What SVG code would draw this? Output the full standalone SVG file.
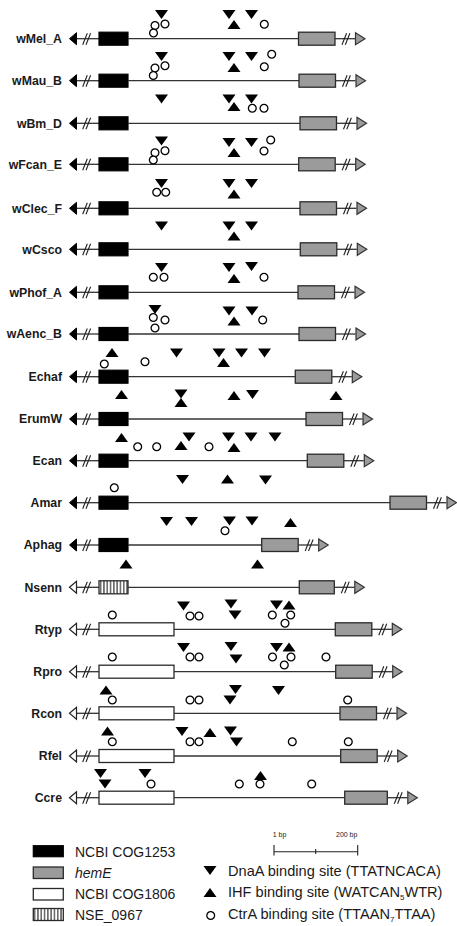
<svg xmlns="http://www.w3.org/2000/svg" xmlns:xlink="http://www.w3.org/1999/xlink" width="457" height="926" viewBox="0 0 457 926">
<style>
.lbl{font-family:"Liberation Sans",Arial,sans-serif;font-weight:bold;font-size:12.3px;fill:#1a1a1a;text-anchor:end}
.ln{stroke:#333;stroke-width:1.3;fill:none}
.sl{stroke:#222;stroke-width:1.1;fill:none}
.blk{fill:#000;stroke:#000;stroke-width:1.2}
.gry{fill:#9b9b9b;stroke:#2a2a2a;stroke-width:1.3}
.wht{fill:#fff;stroke:#2a2a2a;stroke-width:1.3}
.hat{fill:url(#hatch);stroke:#2a2a2a;stroke-width:1.3}
.lg{font-family:"Liberation Sans",Arial,sans-serif;font-size:14px;fill:#1a1a1a}
.lg2{font-family:"Liberation Sans",Arial,sans-serif;font-size:14.6px;fill:#1a1a1a}
.sm{font-family:"Liberation Sans",Arial,sans-serif;font-size:7px;fill:#1a1a1a}
</style>
<defs>
<pattern id="hatch" x="0" y="0" width="3.3" height="20" patternUnits="userSpaceOnUse">
<rect width="3.3" height="20" fill="#fff"/>
<line x1="1.65" y1="0" x2="1.65" y2="20" stroke="#222" stroke-width="1.1"/>
</pattern>
<path id="dn" d="M-6.5,-4.4H6.5L0,4.4Z" fill="#000"/>
<path id="up" d="M-6.5,4.4H6.5L0,-4.4Z" fill="#000"/>
<circle id="ct" r="3.9" fill="#fff" stroke="#000" stroke-width="1.3"/>
<g id="capLb">
<path class="ln" d="M76,0H99"/>
<path class="sl" d="M82.7,6L87.3,-5.5M86,6L90.6,-5.5"/>
<path d="M69.5,0L76.5,-6V6Z" fill="#000" stroke="#000" stroke-width="1"/>
</g>
<g id="capLw">
<path class="ln" d="M76,0H99"/>
<path class="sl" d="M82.7,6L87.3,-5.5M86,6L90.6,-5.5"/>
<path d="M69.5,0L76.5,-6V6Z" fill="#fff" stroke="#222" stroke-width="1.2"/>
</g>
<g id="capR">
<path class="ln" d="M0,0H20"/>
<path class="sl" d="M7,6L11.6,-5.5M10.3,6L14.9,-5.5"/>
<path d="M20.5,-6L30,0L20.5,6Z" fill="#9b9b9b" stroke="#333" stroke-width="1.2"/>
</g>
</defs>
<rect width="457" height="926" fill="#fff"/>

<g id="wMel_A">
<text class="lbl" x="62" y="42.9">wMel_A</text>
<use xlink:href="#capLb" y="38.7"/>
<rect class="blk" x="99" y="32.2" width="29" height="13"/>
<path class="ln" d="M128,38.7H298.5"/>
<rect class="gry" x="298.5" y="32.2" width="36.5" height="13"/>
<use xlink:href="#capR" x="335" y="38.7"/>
<use xlink:href="#dn" x="161.5" y="14.5"/>
<use xlink:href="#ct" x="165" y="24"/><use xlink:href="#ct" x="155" y="25.5"/><use xlink:href="#ct" x="153.5" y="33"/>
<use xlink:href="#dn" x="229" y="14.5"/><use xlink:href="#up" x="234" y="24.5"/><use xlink:href="#dn" x="251.5" y="14.5"/>
<use xlink:href="#ct" x="264.3" y="24.3"/>
</g>

<g id="wMau_B">
<text class="lbl" x="62" y="84.9">wMau_B</text>
<use xlink:href="#capLb" y="80.7"/>
<rect class="blk" x="99" y="74.2" width="29" height="13"/>
<path class="ln" d="M128,80.7H299"/>
<rect class="gry" x="299" y="74.2" width="36.5" height="13"/>
<use xlink:href="#capR" x="335.5" y="80.7"/>
<use xlink:href="#dn" x="161.5" y="56.5"/>
<use xlink:href="#ct" x="165" y="65.7"/><use xlink:href="#ct" x="155" y="68"/><use xlink:href="#ct" x="153.3" y="75.5"/>
<use xlink:href="#dn" x="229" y="56.5"/><use xlink:href="#up" x="234" y="67.5"/><use xlink:href="#dn" x="251.5" y="56.5"/>
<use xlink:href="#ct" x="271.7" y="54.3"/><use xlink:href="#ct" x="264.3" y="66.7"/>
</g>

<g id="wBm_D">
<text class="lbl" x="62" y="127.5">wBm_D</text>
<use xlink:href="#capLb" y="123.3"/>
<rect class="blk" x="99" y="116.8" width="29" height="13"/>
<path class="ln" d="M128,123.3H300"/>
<rect class="gry" x="300" y="116.8" width="36.5" height="13"/>
<use xlink:href="#capR" x="336.5" y="123.3"/>
<use xlink:href="#dn" x="161.5" y="99"/>
<use xlink:href="#dn" x="229" y="99"/><use xlink:href="#up" x="234" y="106.5"/><use xlink:href="#dn" x="251.5" y="99"/>
<use xlink:href="#ct" x="252.3" y="108.3"/><use xlink:href="#ct" x="264" y="108.3"/>
</g>

<g id="wFcan_E">
<text class="lbl" x="62" y="168.5">wFcan_E</text>
<use xlink:href="#capLb" y="164.3"/>
<rect class="blk" x="99" y="157.8" width="29" height="13"/>
<path class="ln" d="M128,164.3H298.7"/>
<rect class="gry" x="298.7" y="157.8" width="36.5" height="13"/>
<use xlink:href="#capR" x="335.2" y="164.3"/>
<use xlink:href="#dn" x="161.5" y="141"/>
<use xlink:href="#ct" x="165" y="150.7"/><use xlink:href="#ct" x="155" y="152.7"/><use xlink:href="#ct" x="153.3" y="160"/>
<use xlink:href="#dn" x="229" y="142.5"/><use xlink:href="#up" x="234" y="152.5"/><use xlink:href="#dn" x="251.5" y="142.5"/>
<use xlink:href="#ct" x="270.7" y="140"/><use xlink:href="#ct" x="264" y="151"/>
</g>

<g id="wClec_F">
<text class="lbl" x="62" y="212.5">wClec_F</text>
<use xlink:href="#capLb" y="208.3"/>
<rect class="blk" x="99" y="201.8" width="29" height="13"/>
<path class="ln" d="M128,208.3H300"/>
<rect class="gry" x="300" y="201.8" width="36.5" height="13"/>
<use xlink:href="#capR" x="336.5" y="208.3"/>
<use xlink:href="#dn" x="161.5" y="183.5"/>
<use xlink:href="#ct" x="156.7" y="192.3"/><use xlink:href="#ct" x="165.7" y="192.3"/>
<use xlink:href="#dn" x="229" y="183.5"/><use xlink:href="#up" x="234" y="194"/><use xlink:href="#dn" x="251.5" y="183.5"/>
</g>

<g id="wCsco">
<text class="lbl" x="62" y="253.5">wCsco</text>
<use xlink:href="#capLb" y="249.3"/>
<rect class="blk" x="99" y="242.8" width="29" height="13"/>
<path class="ln" d="M128,249.3H300.3"/>
<rect class="gry" x="300.3" y="242.8" width="36.5" height="13"/>
<use xlink:href="#capR" x="336.8" y="249.3"/>
<use xlink:href="#dn" x="161.5" y="226"/>
<use xlink:href="#dn" x="229" y="226"/><use xlink:href="#up" x="234" y="236"/><use xlink:href="#dn" x="251.5" y="226"/>
</g>

<g id="wPhof_A">
<text class="lbl" x="62" y="296.5">wPhof_A</text>
<use xlink:href="#capLb" y="292.3"/>
<rect class="blk" x="99" y="285.8" width="29" height="13"/>
<path class="ln" d="M128,292.3H298"/>
<rect class="gry" x="298" y="285.8" width="36.5" height="13"/>
<use xlink:href="#capR" x="334.5" y="292.3"/>
<use xlink:href="#dn" x="161.5" y="267.5"/>
<use xlink:href="#ct" x="153.3" y="277.3"/><use xlink:href="#ct" x="164" y="277.3"/>
<use xlink:href="#dn" x="229" y="267.5"/><use xlink:href="#up" x="234" y="278.5"/><use xlink:href="#dn" x="251.5" y="266.5"/>
<use xlink:href="#ct" x="264" y="277.3"/>
</g>

<g id="wAenc_B">
<text class="lbl" x="62" y="338.2">wAenc_B</text>
<use xlink:href="#capLb" y="334"/>
<rect class="blk" x="99" y="327.5" width="29" height="13"/>
<path class="ln" d="M128,334H299"/>
<rect class="gry" x="299" y="327.5" width="36.5" height="13"/>
<use xlink:href="#capR" x="335.5" y="334"/>
<use xlink:href="#dn" x="155" y="309.5"/>
<use xlink:href="#ct" x="153.3" y="317.5"/><use xlink:href="#ct" x="165" y="320"/><use xlink:href="#ct" x="155" y="328"/>
<use xlink:href="#dn" x="229" y="311"/><use xlink:href="#up" x="234" y="321"/><use xlink:href="#dn" x="252" y="311"/>
<use xlink:href="#ct" x="262.7" y="320"/>
</g>

<g id="Echaf">
<text class="lbl" x="62" y="380.9">Echaf</text>
<use xlink:href="#capLb" y="376.7"/>
<rect class="blk" x="99" y="370.2" width="29" height="13"/>
<path class="ln" d="M128,376.7H295.3"/>
<rect class="gry" x="295.3" y="370.2" width="36.5" height="13"/>
<use xlink:href="#capR" x="331.8" y="376.7"/>
<use xlink:href="#up" x="112" y="352.5"/><use xlink:href="#ct" x="104.3" y="364"/><use xlink:href="#ct" x="145" y="361.7"/>
<use xlink:href="#dn" x="176.5" y="353"/><use xlink:href="#dn" x="219" y="353"/><use xlink:href="#up" x="223.5" y="362.5"/>
<use xlink:href="#dn" x="241.5" y="353"/><use xlink:href="#dn" x="264.5" y="353"/>
</g>

<g id="ErumW">
<text class="lbl" x="62" y="423.2">ErumW</text>
<use xlink:href="#capLb" y="419"/>
<rect class="blk" x="99" y="412.5" width="29" height="13"/>
<path class="ln" d="M128,419H306"/>
<rect class="gry" x="306" y="412.5" width="36.5" height="13"/>
<use xlink:href="#capR" x="342.5" y="419"/>
<use xlink:href="#up" x="121.5" y="394.5"/>
<use xlink:href="#dn" x="181" y="394"/><use xlink:href="#up" x="181" y="402.5"/>
<use xlink:href="#up" x="234" y="395.5"/><use xlink:href="#dn" x="252.5" y="394.5"/><use xlink:href="#up" x="336" y="395.5"/>
</g>

<g id="Ecan">
<text class="lbl" x="62" y="464.9">Ecan</text>
<use xlink:href="#capLb" y="460.7"/>
<rect class="blk" x="99" y="454.2" width="29" height="13"/>
<path class="ln" d="M128,460.7H307.3"/>
<rect class="gry" x="307.3" y="454.2" width="36.5" height="13"/>
<use xlink:href="#capR" x="343.8" y="460.7"/>
<use xlink:href="#up" x="121.5" y="437.5"/>
<use xlink:href="#ct" x="137.7" y="446.7"/><use xlink:href="#ct" x="156.7" y="446.7"/>
<use xlink:href="#up" x="181" y="445.5"/><use xlink:href="#dn" x="189" y="437"/>
<use xlink:href="#ct" x="209" y="446.7"/>
<use xlink:href="#dn" x="228.5" y="437"/><use xlink:href="#up" x="234" y="447.5"/>
<use xlink:href="#dn" x="251" y="437"/><use xlink:href="#dn" x="275" y="437"/>
</g>

<g id="Amar">
<text class="lbl" x="62" y="506.9">Amar</text>
<use xlink:href="#capLb" y="502.7"/>
<rect class="blk" x="99" y="496.2" width="29" height="13"/>
<path class="ln" d="M128,502.7H390"/>
<rect class="gry" x="390" y="496.2" width="36.5" height="13"/>
<use xlink:href="#capR" x="426.5" y="502.7"/>
<use xlink:href="#ct" x="114.3" y="487.7"/>
<use xlink:href="#dn" x="182.5" y="479.5"/><use xlink:href="#up" x="227.5" y="479"/><use xlink:href="#dn" x="265.5" y="480"/>
</g>

<g id="Aphag">
<text class="lbl" x="62" y="549.2">Aphag</text>
<use xlink:href="#capLb" y="545"/>
<rect class="blk" x="99" y="538.5" width="29" height="13"/>
<path class="ln" d="M128,545H261.7"/>
<rect class="gry" x="261.7" y="538.5" width="36.5" height="13"/>
<use xlink:href="#capR" x="298.2" y="545"/>
<use xlink:href="#dn" x="166.5" y="521.5"/><use xlink:href="#dn" x="191.5" y="521.5"/>
<use xlink:href="#dn" x="229.5" y="521"/><use xlink:href="#ct" x="225" y="530.7"/>
<use xlink:href="#dn" x="252" y="521"/><use xlink:href="#up" x="290.5" y="522.5"/>
</g>

<g id="Nsenn">
<text class="lbl" x="62" y="591.5">Nsenn</text>
<use xlink:href="#capLw" y="587.3"/>
<rect class="hat" x="99" y="580.8" width="29" height="13"/>
<path class="ln" d="M128,587.3H299.3"/>
<rect class="gry" x="299.3" y="580.8" width="35" height="13"/>
<use xlink:href="#capR" x="334.3" y="587.3"/>
<use xlink:href="#up" x="126" y="564"/><use xlink:href="#up" x="257.5" y="564"/>
</g>

<g id="Rtyp">
<text class="lbl" x="62" y="633.5">Rtyp</text>
<use xlink:href="#capLw" y="629.3"/>
<rect class="wht" x="99" y="622.8" width="75" height="13"/>
<path class="ln" d="M174,629.3H335.3"/>
<rect class="gry" x="335.3" y="622.8" width="36.5" height="13"/>
<use xlink:href="#capR" x="371.8" y="629.3"/>
<use xlink:href="#ct" x="112.3" y="615"/>
<use xlink:href="#dn" x="183.5" y="606"/><use xlink:href="#ct" x="190" y="616"/><use xlink:href="#ct" x="199" y="616"/>
<use xlink:href="#dn" x="231" y="604"/><use xlink:href="#dn" x="235" y="615"/>
<use xlink:href="#dn" x="276.5" y="605"/><use xlink:href="#up" x="289" y="605"/>
<use xlink:href="#ct" x="272.3" y="615"/><use xlink:href="#ct" x="290.7" y="615"/><use xlink:href="#ct" x="285" y="623.3"/>
</g>

<g id="Rpro">
<text class="lbl" x="62" y="675.9">Rpro</text>
<use xlink:href="#capLw" y="671.7"/>
<rect class="wht" x="99" y="665.2" width="75" height="13"/>
<path class="ln" d="M174,671.7H335.7"/>
<rect class="gry" x="335.7" y="665.2" width="36.5" height="13"/>
<use xlink:href="#capR" x="372.2" y="671.7"/>
<use xlink:href="#ct" x="112.3" y="657"/>
<use xlink:href="#dn" x="183.5" y="647.5"/><use xlink:href="#ct" x="190" y="657"/><use xlink:href="#ct" x="199" y="657"/>
<use xlink:href="#dn" x="231" y="646.5"/><use xlink:href="#dn" x="236" y="659"/>
<use xlink:href="#dn" x="276.5" y="647.5"/><use xlink:href="#up" x="289" y="647"/>
<use xlink:href="#ct" x="272.5" y="657"/><use xlink:href="#ct" x="291" y="657"/><use xlink:href="#ct" x="284.3" y="665"/>
<use xlink:href="#ct" x="326" y="657"/>
</g>

<g id="Rcon">
<text class="lbl" x="62" y="717.5">Rcon</text>
<use xlink:href="#capLw" y="713.3"/>
<rect class="wht" x="99" y="706.8" width="75" height="13"/>
<path class="ln" d="M174,713.3H340"/>
<rect class="gry" x="340" y="706.8" width="36.5" height="13"/>
<use xlink:href="#capR" x="376.5" y="713.3"/>
<use xlink:href="#up" x="106" y="690"/><use xlink:href="#ct" x="112.3" y="700"/>
<use xlink:href="#ct" x="190" y="700"/><use xlink:href="#ct" x="199" y="700"/>
<use xlink:href="#dn" x="235.5" y="689.5"/><use xlink:href="#dn" x="230" y="700"/>
<use xlink:href="#dn" x="278.5" y="690.5"/>
<use xlink:href="#ct" x="347.7" y="700"/>
</g>

<g id="Rfel">
<text class="lbl" x="62" y="760.2">Rfel</text>
<use xlink:href="#capLw" y="756"/>
<rect class="wht" x="99" y="749.5" width="75" height="13"/>
<path class="ln" d="M174,756H340.7"/>
<rect class="gry" x="340.7" y="749.5" width="36.5" height="13"/>
<use xlink:href="#capR" x="377.2" y="756"/>
<use xlink:href="#up" x="107.5" y="731"/><use xlink:href="#ct" x="112.3" y="741.7"/>
<use xlink:href="#dn" x="182" y="731.5"/><use xlink:href="#ct" x="190" y="741.7"/><use xlink:href="#ct" x="199" y="741.7"/>
<use xlink:href="#up" x="210" y="732.5"/>
<use xlink:href="#dn" x="230.5" y="731"/><use xlink:href="#dn" x="236.5" y="742"/>
<use xlink:href="#ct" x="292.3" y="741.7"/><use xlink:href="#ct" x="348.3" y="741.7"/>
</g>

<g id="Ccre">
<text class="lbl" x="62" y="801.9">Ccre</text>
<use xlink:href="#capLw" y="797.7"/>
<rect class="wht" x="99" y="791.2" width="75" height="13"/>
<path class="ln" d="M174,797.7H344.7"/>
<rect class="gry" x="344.7" y="791.2" width="42.6" height="13"/>
<use xlink:href="#capR" x="387.3" y="797.7"/>
<use xlink:href="#dn" x="100.5" y="773.5"/><use xlink:href="#dn" x="105" y="784"/>
<use xlink:href="#dn" x="145" y="773.5"/><use xlink:href="#ct" x="151" y="784"/>
<use xlink:href="#ct" x="239.3" y="784"/><use xlink:href="#up" x="260.5" y="775.5"/><use xlink:href="#ct" x="260" y="784"/>
<use xlink:href="#ct" x="311.7" y="784"/>
</g>

<g id="legend">
<rect class="blk" x="33.3" y="845.7" width="30" height="11"/>
<text class="lg" x="75" y="856.5">NCBI COG1253</text>
<rect class="gry" x="33.3" y="867" width="30" height="11.5"/>
<text class="lg" x="75" y="877.5" font-style="italic">hemE</text>
<rect class="wht" x="33.3" y="888.5" width="30" height="11.5"/>
<text class="lg" x="75" y="899">NCBI COG1806</text>
<rect class="hat" x="33.3" y="908.5" width="30" height="12"/>
<text class="lg" x="75" y="920">NSE_0967</text>

<g id="scalebar">
<path d="M274,851.7H357.7M274,845V855.5M315.7,849V854M357.7,845V855.5" stroke="#222" stroke-width="1.1" fill="none"/>
<text class="sm" x="272.7" y="837">1 bp</text>
<text class="sm" x="336" y="837">200 bp</text>
</g>

<use xlink:href="#dn" x="210" y="870.5"/>
<text class="lg2" x="228" y="875.5">DnaA binding site (TTATNCACA)</text>
<use xlink:href="#up" x="210" y="892.5"/>
<text class="lg2" x="228" y="897">IHF binding site (WATCAN<tspan font-size="8" dy="2.5">5</tspan><tspan dy="-2.5">WTR)</tspan></text>
<use xlink:href="#ct" x="210.7" y="915.5"/>
<text class="lg2" x="228" y="919">CtrA binding site (TTAAN<tspan font-size="8" dy="2.5">7</tspan><tspan dy="-2.5">TTAA)</tspan></text>
</g>
</svg>
